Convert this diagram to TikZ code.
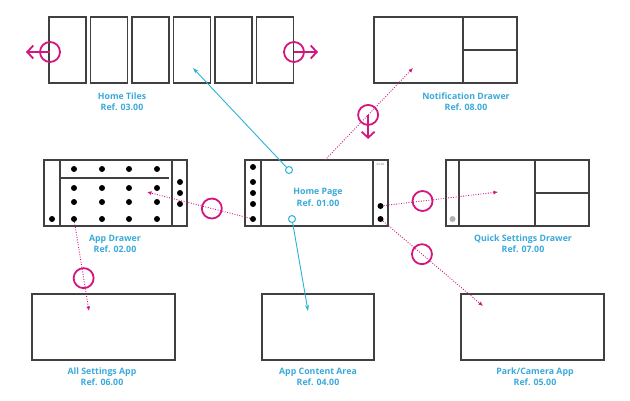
\documentclass[tikz,border=0pt]{standalone}
\usepackage{fontspec}
\setmainfont{Open Sans}
\usetikzlibrary{arrows.meta}

\definecolor{refblue}{HTML}{3AA9DA}
\definecolor{linkcyan}{HTML}{2AB3D6}
\definecolor{swipepink}{HTML}{D4157F}
\definecolor{framegrey}{HTML}{404040}

\begin{document}
\begin{tikzpicture}[
    x=1pt, y=-1pt,
    screen/.style={
        rectangle,
        draw=framegrey,
        line width=1.1pt,
        fill=white,
        inner sep=0pt,
        minimum width=143pt,
        minimum height=66pt
    },
    tile/.style={
        screen,
        minimum width=37pt
    },
    divider/.style={
        draw=framegrey,
        line width=1.1pt
    },
    dot/.style={
        circle,
        fill=black,
        inner sep=0pt,
        minimum size=6pt
    },
    reflabel/.style={
        font=\fontsize{8.8}{11.2}\selectfont\bfseries,
        text=refblue,
        align=center
    },
    clock/.style={
        font=\fontsize{3}{3}\selectfont,
        text=black!50,
        inner sep=0pt
    },
    ring/.style={
        circle,
        solid,
        draw=swipepink,
        line width=1.8pt,
        minimum size=20pt,
        inner sep=0pt
    },
    swipe/.style={
        draw=swipepink,
        line width=1.8pt,
        -{Straight Barb[length=6pt, width=13pt]}
    },
    knob/.style={
        circle,
        draw=linkcyan,
        line width=1pt,
        fill=white,
        minimum size=7pt,
        inner sep=0pt
    },
    link/.style={
        draw=linkcyan,
        line width=0.9pt,
        -{Stealth[length=6pt, width=4pt]}
    },
    hop/.style={
        draw=swipepink,
        line width=0.9pt,
        dash pattern=on 0.9pt off 1.6pt,
        -{Latex[length=4.5pt, width=4pt]}
    }
]
\useasboundingbox (0,0) rectangle (630,400);

% Home tiles
\node[tile] (t1) at (67.5, 50) {};
\node[tile] (t2) at (109, 50) {};
\node[tile] (t3) at (150.5, 50) {};
\node[tile] (t4) at (192, 50) {};
\node[tile] (t5) at (233.5, 50) {};
\node[tile] (t6) at (275, 50) {};
\node[reflabel] at (122, 101.5) {Home Tiles\\Ref. 03.00};

% Notification drawer
\node[screen] (notif) at (445.5, 50) {};
\draw[divider] (463, 17) -- (463, 83);
\draw[divider] (463, 50) -- (517, 50);
\node[reflabel] at (466, 101.5) {Notification Drawer\\Ref. 08.00};

% App drawer
\node[screen] (drawer) at (115.5, 193) {};
\draw[divider] (60, 160) -- (60, 226);
\draw[divider] (172, 160) -- (172, 226);
\draw[divider] (61, 178) -- (169, 178);
\node[dot] at (74, 169) {}; \node[dot] at (102, 169) {}; \node[dot] at (129, 169) {}; \node[dot] at (157, 169) {};
\node[dot] at (74, 188) {}; \node[dot] at (102, 188) {}; \node[dot] at (129, 188) {}; \node[dot] at (157, 188) {};
\node[dot] at (74, 202) {}; \node[dot] at (102, 202) {}; \node[dot] at (129, 202) {}; \node[dot] at (157, 202) {};
\node[dot] (ad1) at (74, 219) {}; \node[dot] at (102, 219) {}; \node[dot] at (129, 219) {}; \node[dot] at (157, 219) {};
\node[dot] at (52, 219) {};
\node[dot] at (180, 182) {};
\node[dot] at (180, 193) {};
\node[dot] at (180, 204) {};
\node[reflabel] at (115, 243.5) {App Drawer\\Ref. 02.00};

% Home page
\node[screen] (home) at (316.5, 193) {};
\draw[divider] (261, 160) -- (261, 226);
\draw[divider] (373, 160) -- (373, 226);
\node[dot] at (253, 167) {};
\node[dot] at (253, 182) {};
\node[dot] at (253, 193) {};
\node[dot] at (253, 204) {};
\node[dot] (hl5) at (253, 219) {};
\node[dot] (hr1) at (380.5, 206) {};
\node[dot] (hr2) at (380.5, 219) {};
\node[clock] (time) at (380.5, 164) {00:00};
\node[reflabel] at (318, 197.5) {Home Page\\Ref. 01.00};

% Quick settings drawer
\node[screen] (quick) at (517.5, 193) {};
\draw[divider] (459, 160) -- (459, 226);
\draw[divider] (535, 160) -- (535, 226);
\draw[divider] (535, 193) -- (589, 193);
\node[dot, fill=black!30] at (452.5, 219) {};
\node[reflabel] at (523, 243.5) {Quick Settings Drawer\\Ref. 07.00};

% Bottom row apps
\node[screen] (settings) at (103.5, 327) {};
\node[reflabel] at (102, 376.5) {All Settings App\\Ref. 06.00};
\node[screen, minimum width=112pt] (content) at (318, 327) {};
\node[reflabel] at (318, 376.5) {App Content Area\\Ref. 04.00};
\node[screen] (park) at (532.5, 327) {};
\node[reflabel] at (535, 376.5) {Park/Camera App\\Ref. 05.00};

% Arrow targets
\coordinate (tiletip) at (193, 68);
\coordinate (notiftip) at (413, 68);
\coordinate (drawertip) at (147, 192);
\coordinate (quicktip) at (498, 192);
\coordinate (parktip) at (483, 306);
\coordinate (contenttip) at (308, 311);
\coordinate (settingstip) at (89, 311);
\coordinate (hometop) at (325, 160);

% Cyan links from the home page
\node[knob] (k1) at (289, 170) {};
\node[knob] (k2) at (292, 219) {};
\draw[link] (k1) -- (tiletip);
\draw[link] (k2) -- (contenttip);

% Swipe gestures (dotted)
\draw[hop] (hometop) -- node[ring, pos=0.49] (nring) {} (notiftip);
\draw[hop] (hl5) -- node[ring, pos=0.37] (dring) {} (drawertip);
\draw[hop] (hr1) -- node[ring, pos=0.34] (qring) {} (quicktip);
\draw[hop] (hr2) -- node[ring, pos=0.39] (pring) {} (parktip);
\draw[hop] (ad1) -- node[ring, pos=0.63] (sring) {} (settingstip);

% Tile scrolling and pull down
\node[ring] (lring) at (50, 52) {};
\node[ring] (rring) at (294, 52) {};
\coordinate (lend) at (26, 52);
\coordinate (rend) at (318, 52);
\path (nring.center) ++(0, 24) coordinate (nend);
\draw[swipe] (lring.center) -- (lend);
\draw[swipe] (rring.center) -- (rend);
\draw[swipe] (nring.center) -- (nend);

\end{tikzpicture}
\end{document}
